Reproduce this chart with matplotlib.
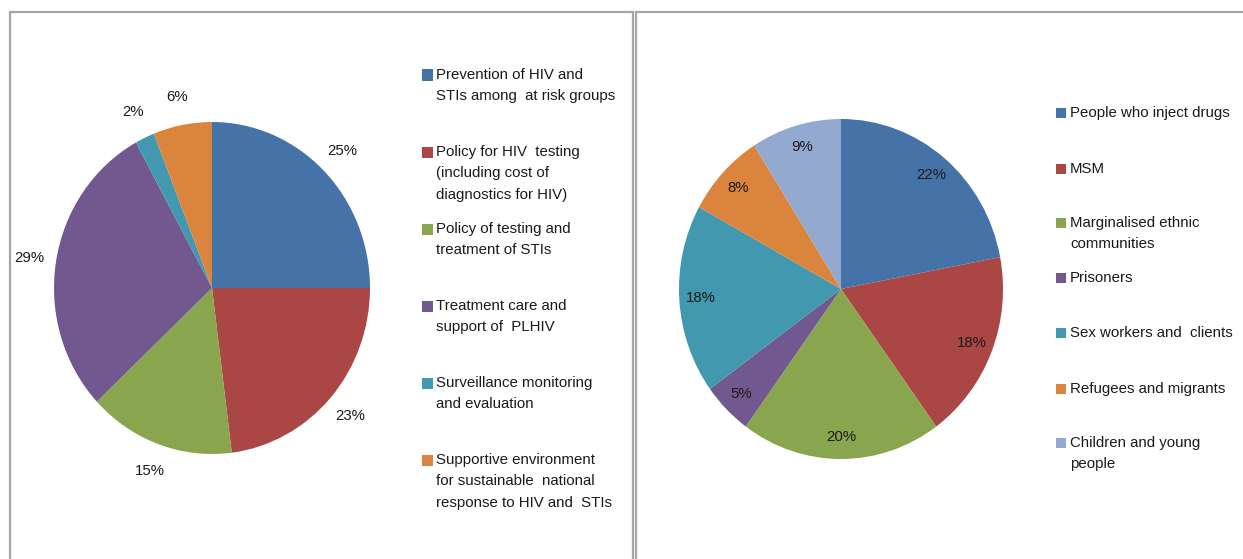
import matplotlib.pyplot as plt
from matplotlib.patches import Rectangle

plt.rcParams['font.family'] = ['Liberation Sans', 'DejaVu Sans']

# left chart: areas of work
areas = ['Prevention of HIV and\nSTIs among  at risk groups',
         'Policy for HIV  testing\n(including cost of\ndiagnostics for HIV)',
         'Policy of testing and\ntreatment of STIs',
         'Treatment care and\nsupport of  PLHIV',
         'Surveillance monitoring\nand evaluation',
         'Supportive environment\nfor sustainable  national\nresponse to HIV and  STIs']
area_pct = [25, 23, 15, 29, 2, 6]
area_colors = ['#4572A7', '#AA4643', '#89A54E', '#71588F', '#4198AF', '#DB843D']

# right chart: key populations
groups = ['People who inject drugs', 'MSM', 'Marginalised ethnic\ncommunities',
          'Prisoners', 'Sex workers and  clients', 'Refugees and migrants',
          'Children and young\npeople']
group_pct = [22, 18, 20, 5, 18, 8, 9]
group_colors = ['#4572A7', '#AA4643', '#89A54E', '#71588F', '#4198AF', '#DB843D', '#93A9CF']

W, H = 1243, 559
fig = plt.figure(figsize=(W / 100, H / 100), dpi=100)
txt = '#1a1a1a'
fs = 10.8


def px(x0, y0, x1, y1):
    # pixel box (top-left origin) -> figure fraction rect
    return [x0 / W, (H - y1) / H, (x1 - x0) / W, (y1 - y0) / H]


# panel borders
for x0, x1 in [(10, 633), (636, 1260)]:
    fig.add_artist(Rectangle((x0 / W, -0.05), (x1 - x0) / W, (H - 12) / H + 0.05,
                             transform=fig.transFigure, fill=False,
                             edgecolor='#a6a6a6', lw=1.6))

ax1 = fig.add_axes(px(54, 122, 370, 454))
ax1.pie(area_pct, colors=area_colors, startangle=90, counterclock=False,
        autopct='%d%%', pctdistance=1.17,
        textprops=dict(color=txt, fontsize=fs))
ax1.set_aspect('auto')
ax1.set_xlim(-1, 1)
ax1.set_ylim(-1, 1)

ax2 = fig.add_axes(px(679, 119, 1003, 459))
ax2.pie(group_pct, colors=group_colors, startangle=90, counterclock=False,
        autopct='%d%%', pctdistance=0.87,
        textprops=dict(color=txt, fontsize=fs))
ax2.set_aspect('auto')
ax2.set_xlim(-1, 1)
ax2.set_ylim(-1, 1)


def legend(labels, colors, ys, xs, xt, size):
    for lab, c, y in zip(labels, colors, ys):
        fig.add_artist(Rectangle((xs / W, (H - y - size / 2) / H), size / W, size / H,
                                 transform=fig.transFigure, facecolor=c, lw=0))
        fig.text(xt / W, (H - y + 7) / H, lab, ha='left', va='top',
                 fontsize=fs, color=txt, linespacing=1.68)


legend(areas, area_colors, [75, 152, 229, 306, 383, 460], 422, 436, 11)
legend(groups, group_colors, [113, 169, 223, 278, 333, 389, 443], 1056, 1070, 10)

fig.savefig('out.png', dpi=100, facecolor='white')
